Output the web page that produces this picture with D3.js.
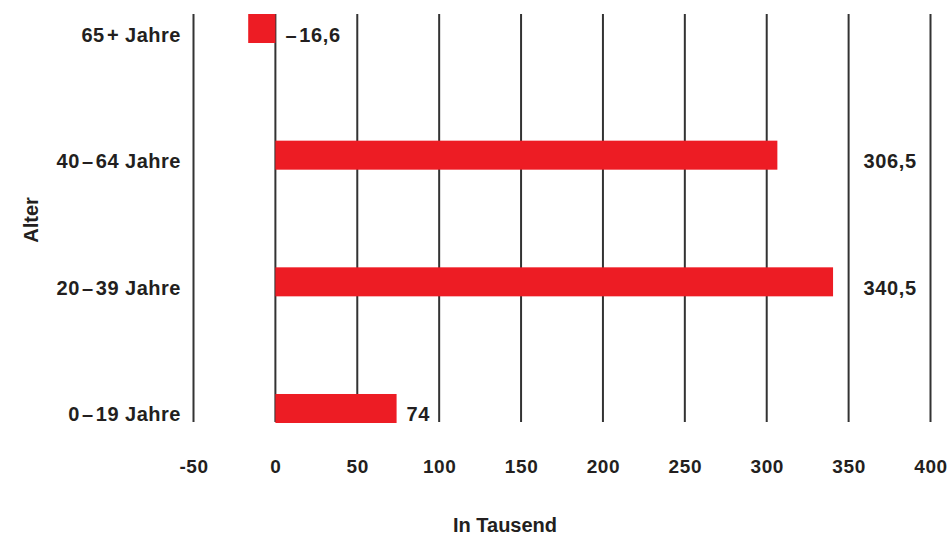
<!DOCTYPE html>
<html><head><meta charset="utf-8">
<script src="https://cdn.jsdelivr.net/npm/d3@7"></script>
<style>
body{margin:0;background:#fff;}
text{font-family:"Liberation Sans",Arial,sans-serif;font-weight:bold;fill:#231f20;}
</style></head>
<body><svg id="c" width="950" height="535"></svg>
<script>
const categories = ["65\u200a+ Jahre","40\u200a\u2013\u200a64 Jahre","20\u200a\u2013\u200a39 Jahre","0\u200a\u2013\u200a19 Jahre"];
const values = [-16.6, 306.5, 340.5, 74];
const valueLabels = ["\u2013\u200a16,6","306,5","340,5","74"];
const tickValues = [-50,0,50,100,150,200,250,300,350,400];
const xTitle = "In Tausend";
const yTitle = "Alter";

const svg = d3.select("#c");
const x = d3.scaleLinear().domain([-50,400]).range([193.5,930.5]);
const y = d3.scaleBand().domain(categories).range([14,423]).paddingInner(0.771).paddingOuter(0);

// grid lines
svg.append("g").selectAll("line").data(tickValues).join("line")
  .attr("x1",d=>x(d)).attr("x2",d=>x(d)).attr("y1",14).attr("y2",422)
  .attr("stroke","#333").attr("stroke-width",2);

// bars
svg.append("g").selectAll("rect").data(values).join("rect")
  .attr("x",d=>x(Math.min(0,d))).attr("width",d=>Math.abs(x(d)-x(0)))
  .attr("y",(d,i)=>y(categories[i])).attr("height",y.bandwidth())
  .attr("fill","#ed1c24");

// category labels
svg.append("g").selectAll("text").data(categories).join("text")
  .attr("x",181).attr("y",d=>y(d)+y.bandwidth()/2+6)
  .attr("dominant-baseline","central").attr("text-anchor","end")
  .attr("font-size",20).attr("letter-spacing",0.5).text(d=>d);

// value labels
svg.append("g").selectAll("text").data(values).join("text")
  .attr("x",d=> d>300 ? x(350)+15 : x(Math.max(0,d))+10)
  .attr("y",(d,i)=>y(categories[i])+y.bandwidth()/2+6)
  .attr("dominant-baseline","central")
  .attr("font-size",20).attr("letter-spacing",0.6).text((d,i)=>valueLabels[i]);

// x axis tick labels
const ax = d3.axisBottom(x).tickValues(tickValues).tickSize(0).tickFormat(d=>String(d));
const axG = svg.append("g").attr("transform","translate(0,455)").call(ax);
axG.select(".domain").remove();
axG.selectAll("text").attr("font-size",19).attr("font-family","Liberation Sans, Arial, sans-serif")
  .attr("font-weight","bold").attr("fill","#231f20").attr("letter-spacing",0.6)
  .attr("dy","0.32em").attr("y",12);

svg.append("text").attr("x",505).attr("y",525).attr("text-anchor","middle")
  .attr("dominant-baseline","central").attr("font-size",20).text(xTitle);
svg.append("text").attr("transform","translate(31,220) rotate(-90)").attr("text-anchor","middle")
  .attr("dominant-baseline","central").attr("font-size",20).text(yTitle);
</script></body></html>
